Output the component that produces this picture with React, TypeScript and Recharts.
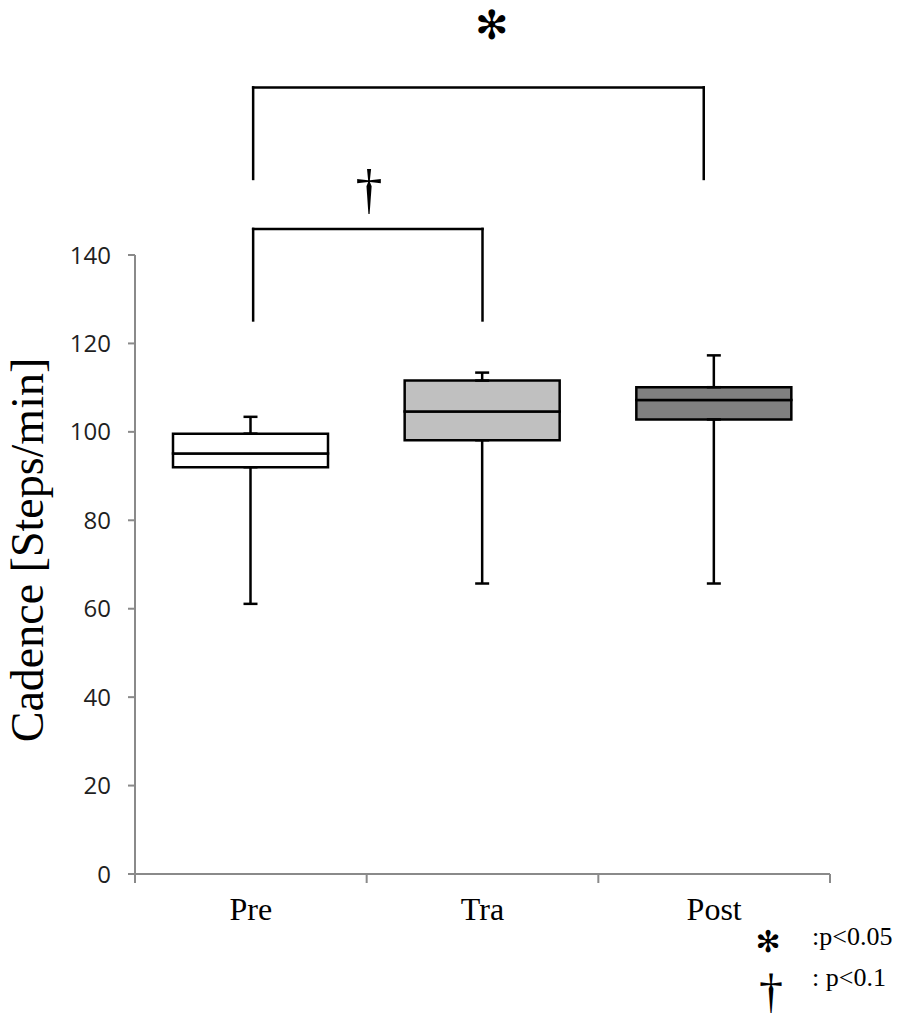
import React from "react";
import { ComposedChart, Bar, ErrorBar, Cell, XAxis, YAxis, ReferenceLine, ReferenceDot } from "recharts";

// Box plot values (steps/min)
const CATEGORIES = ["Pre", "Tra", "Post"];
const WHISKER_LOW = [61.1, 65.7, 65.7];
const Q1 = [92.0, 98.1, 102.8];
const MEDIAN = [95.1, 104.6, 107.2];
const Q3 = [99.6, 111.6, 110.1];
const WHISKER_HIGH = [103.4, 113.4, 117.3];
const BOX_FILLS = ["#ffffff", "#c0c0c0", "#808080"];
const Y_TICKS = [0, 20, 40, 60, 80, 100, 120, 140];
const X_TICKS = [0, 0.5, 1, 1.5, 2, 2.5, 3];

// significance brackets (x in category units, y in axis units)
const BRACKET_LEFT = [0.51, 0.51];
const BRACKET_RIGHT = [2.455, 1.5];
const BRACKET_TOP = [177.9, 145.9];
const BRACKET_FOOT = [157.2, 125.2];
const MARKS = ["\u273B", "\u2020"];
const MARK_X = [1.54, 1.01];
const MARK_Y = [192, 154.6];

const AXIS_GREY = "#8a8a8a";
const INK = "#000000";
const SERIF = "'Liberation Serif', 'Times New Roman', serif";

const rows = CATEGORIES.map((name, i) => ({
  pos: i + 0.5,
  name,
  base: Q1[i],
  lower: MEDIAN[i] - Q1[i],
  upper: Q3[i] - MEDIAN[i],
  lowErr: [Q1[i] - WHISKER_LOW[i], 0],
  highErr: [0, WHISKER_HIGH[i] - Q3[i]],
}));

function XTick(props: any) {
  const { x, y, payload } = props;
  const v = Number(payload.value);
  if (Number.isInteger(v)) {
    return <line x1={x} x2={x} y1={y - 9} y2={y} stroke={AXIS_GREY} strokeWidth={2} />;
  }
  return (
    <text x={x} y={y + 37} textAnchor="middle" fontFamily={SERIF} fontSize={32} fill={INK}>
      {CATEGORIES[Math.floor(v)]}
    </text>
  );
}

function markShape(glyph: string, size: number, font: string) {
  return (p: any) => (
    <text x={p.cx} y={p.cy} textAnchor="middle" dominantBaseline="central" fontFamily={font} fontSize={size} fill={INK}>
      {glyph}
    </text>
  );
}

const seg = { stroke: INK, strokeWidth: 2.5, strokeLinecap: "square" as const, ifOverflow: "visible" as const };

export default function App() {
  return (
    <div style={{ position: "absolute", left: 0, top: 0, width: 898, height: 1021, background: "#fff" }}>
      <ComposedChart
        width={898}
        height={1021}
        data={rows}
        margin={{ top: 255, right: 68, bottom: 87, left: 55 }}
      >
        <XAxis
          dataKey="pos"
          type="number"
          domain={[0, 3]}
          ticks={X_TICKS}
          interval={0}
          tick={<XTick />}
          tickLine={false}
          tickSize={9}
          tickMargin={0}
          height={60}
          axisLine={{ stroke: AXIS_GREY, strokeWidth: 2 }}
        />
        <YAxis
          type="number"
          domain={[0, 140]}
          ticks={Y_TICKS}
          interval={0}
          width={80}
          tickSize={7}
          tickMargin={17}
          tick={{ fontFamily: "'Open Sans', sans-serif", fontSize: 24, fill: "#1f1f1f" }}
          tickLine={{ stroke: AXIS_GREY, strokeWidth: 2 }}
          axisLine={{ stroke: AXIS_GREY, strokeWidth: 2 }}
        />
        <Bar dataKey="base" stackId="box" fill="transparent" barSize={155} isAnimationActive={false}>
          <ErrorBar dataKey="lowErr" direction="y" width={7} stroke={INK} strokeWidth={2.5} />
        </Bar>
        <Bar dataKey="lower" stackId="box" stroke={INK} strokeWidth={2.5} barSize={155} isAnimationActive={false}>
          {rows.map((r, i) => (
            <Cell key={r.name} fill={BOX_FILLS[i]} />
          ))}
        </Bar>
        <Bar dataKey="upper" stackId="box" stroke={INK} strokeWidth={2.5} barSize={155} isAnimationActive={false}>
          {rows.map((r, i) => (
            <Cell key={r.name} fill={BOX_FILLS[i]} />
          ))}
          <ErrorBar dataKey="highErr" direction="y" width={7} stroke={INK} strokeWidth={2.5} />
        </Bar>
        {BRACKET_TOP.map((top, i) => [
          <ReferenceLine key={`l${i}`} {...seg} segment={[{ x: BRACKET_LEFT[i], y: BRACKET_FOOT[i] }, { x: BRACKET_LEFT[i], y: top }]} />,
          <ReferenceLine key={`t${i}`} {...seg} segment={[{ x: BRACKET_LEFT[i], y: top }, { x: BRACKET_RIGHT[i], y: top }]} />,
          <ReferenceLine key={`r${i}`} {...seg} segment={[{ x: BRACKET_RIGHT[i], y: top }, { x: BRACKET_RIGHT[i], y: BRACKET_FOOT[i] }]} />,
        ])}
        <ReferenceDot x={MARK_X[0]} y={MARK_Y[0]} ifOverflow="visible" shape={markShape(MARKS[0], 40, "'DejaVu Sans', sans-serif")} />
        <ReferenceDot x={MARK_X[1]} y={MARK_Y[1]} ifOverflow="visible" shape={markShape(MARKS[1], 54, SERIF)} />
      </ComposedChart>

      <div
        style={{
          position: "absolute",
          left: 28,
          top: 550,
          transform: "translate(-50%, -50%) rotate(-90deg)",
          whiteSpace: "nowrap",
          fontFamily: SERIF,
          fontSize: 46,
          lineHeight: 1,
          color: INK,
        }}
      >
        Cadence [Steps/min]
      </div>

      <div style={{ position: "absolute", left: 768, top: 942, transform: "translate(-50%, -50%)", fontFamily: "'DejaVu Sans', sans-serif", fontSize: 30, lineHeight: 1 }}>
        {"\u273B"}
      </div>
      <div style={{ position: "absolute", left: 812, top: 937, transform: "translateY(-50%)", fontFamily: SERIF, fontSize: 26, lineHeight: 1, whiteSpace: "nowrap" }}>
        :p&lt;0.05
      </div>
      <div style={{ position: "absolute", left: 771, top: 991, transform: "translate(-50%, -50%)", fontFamily: SERIF, fontSize: 48, lineHeight: 1 }}>
        {"\u2020"}
      </div>
      <div style={{ position: "absolute", left: 812, top: 978, transform: "translateY(-50%)", fontFamily: SERIF, fontSize: 26, lineHeight: 1, whiteSpace: "nowrap" }}>
        : p&lt;0.1
      </div>
    </div>
  );
}
